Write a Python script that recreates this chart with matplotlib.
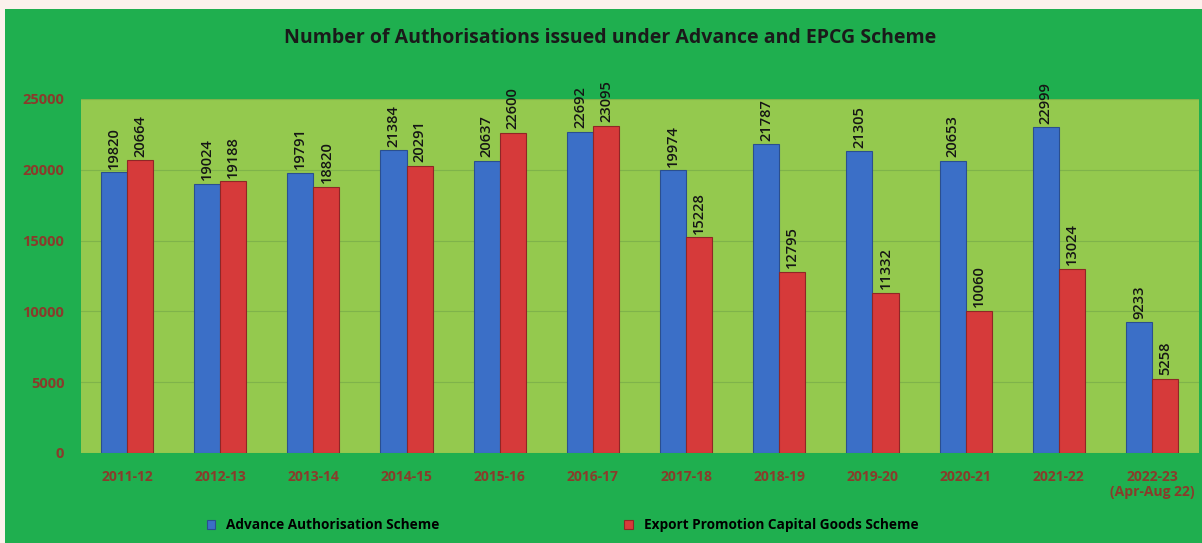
import numpy as np
import matplotlib.pyplot as plt
from matplotlib.patches import Rectangle

years = ["2011-12", "2012-13", "2013-14", "2014-15", "2015-16", "2016-17",
         "2017-18", "2018-19", "2019-20", "2020-21", "2021-22",
         "2022-23\n(Apr-Aug 22)"]
advance = [19820, 19024, 19791, 21384, 20637, 22692, 19974, 21787, 21305, 20653, 22999, 9233]
epcg = [20664, 19188, 18820, 20291, 22600, 23095, 15228, 12795, 11332, 10060, 13024, 5258]

plt.rcParams['font.family'] = ['Open Sans', 'DejaVu Sans']

fig = plt.figure(figsize=(12.02, 5.43), dpi=100, facecolor="#1faf4f")
# white strip at top/left like the scan
fig.patches.append(Rectangle((0, 0), 5 / 1202, 1, transform=fig.transFigure,
                             facecolor="#fbf1ec", edgecolor="none"))
fig.patches.append(Rectangle((0, 1 - 9 / 543), 1, 9 / 543, transform=fig.transFigure,
                             facecolor="#fbf1ec", edgecolor="none"))

ax = fig.add_axes([81 / 1202, 1 - 453 / 543, 1118 / 1202, 354 / 543])
ax.set_facecolor("#94c94e")

x = np.arange(len(years))
w = 0.28
b1 = ax.bar(x - w / 2, advance, w, color="#3b6fc7", edgecolor="#2a4f8f", linewidth=0.8,
            label="Advance Authorisation Scheme", zorder=3)
b2 = ax.bar(x + w / 2, epcg, w, color="#d63a3a", edgecolor="#8f2626", linewidth=0.8,
            label="Export Promotion Capital Goods Scheme", zorder=3)

for bars in (b1, b2):
    for r in bars:
        ax.text(r.get_x() + r.get_width() / 2, r.get_height() + 250, str(int(r.get_height())),
                rotation=90, ha="center", va="bottom", fontsize=10.5, fontweight="semibold",
                color="#151515", zorder=4)

ax.set_ylim(0, 25000)
ax.set_xlim(-0.494, 11.504)
ax.set_yticks(range(0, 25001, 5000))
ax.yaxis.grid(True, color="#7fb34a", linewidth=0.8, zorder=0)
ax.set_xticks(x)
ax.set_xticklabels(years, fontsize=10, fontweight="bold", color="#8a3b2b", linespacing=1.1)
for lab in ax.get_yticklabels():
    lab.set_fontsize(10.5)
    lab.set_fontweight("bold")
    lab.set_color("#8a3b2b")
ax.tick_params(length=0, pad=12)
ax.tick_params(axis="x", pad=12)
for s in ax.spines.values():
    s.set_visible(False)

fig.text(0.508, 1 - 38 / 543, "Number of Authorisations issued under Advance and EPCG Scheme",
         ha="center", va="center", fontsize=14, fontweight="bold", color="#1a1a1a")

fig.legend(loc="center", bbox_to_anchor=(0.468, 1 - 525 / 543), ncol=2, frameon=False,
           handlelength=0.6, handleheight=0.6, columnspacing=13.6,
           prop={"weight": "bold", "size": 9.8})

fig.savefig("out.png", dpi=100, facecolor=fig.get_facecolor())
